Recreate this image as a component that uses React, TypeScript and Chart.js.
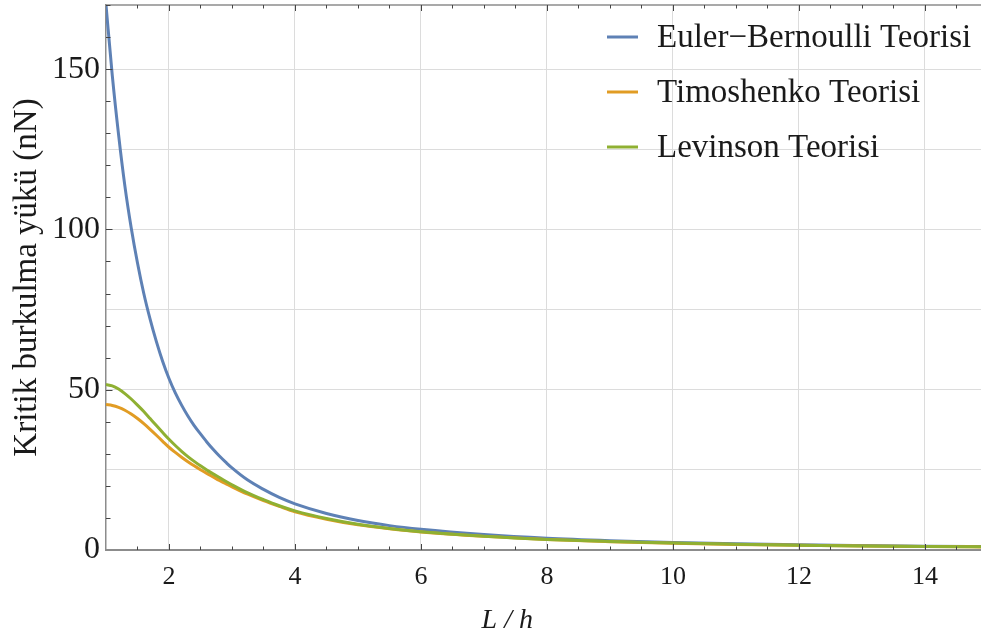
import React, { useEffect, useRef } from "react";
import { Chart, registerables } from "chart.js";

Chart.register(...registerables);

const xValues = [1, 1.1, 1.2, 1.3, 1.4, 1.5, 1.6, 1.7, 1.8, 1.9, 2, 2.1, 2.2, 2.3, 2.4, 2.5, 2.6, 2.7, 2.8, 2.9, 3, 3.25, 3.5, 3.75, 4, 4.5, 5, 5.5, 6, 7, 8, 9, 10, 11, 12, 13, 14, 15];
const eulerBernoulli = [170, 148, 129.5, 113.5, 100.5, 89.5, 80, 72, 65, 58.8, 53.5, 49, 45.2, 41.8, 38.8, 36.2, 33.7, 31.4, 29.3, 27.4, 25.6, 21.8, 18.9, 16.4, 14.4, 11.4, 9.2, 7.6, 6.45, 4.8, 3.65, 2.9, 2.35, 1.95, 1.63, 1.4, 1.2, 1.05];
const timoshenko = [45.4, 45.1, 44.5, 43.6, 42.4, 41.0, 39.4, 37.65, 35.8, 33.9, 32.05, 30.45, 28.95, 27.55, 26.25, 25.05, 23.9, 22.8, 21.7, 20.7, 19.7, 17.4, 15.4, 13.6, 11.9, 9.6, 7.85, 6.6, 5.6, 4.25, 3.25, 2.6, 2.1, 1.75, 1.47, 1.25, 1.08, 0.95];
const levinson = [51.6, 51.2, 50.2, 48.8, 47.1, 45.2, 43.2, 41.0, 38.8, 36.65, 34.55, 32.6, 30.8, 29.15, 27.65, 26.25, 24.95, 23.75, 22.6, 21.45, 20.35, 17.8, 15.7, 13.8, 12.2, 9.8, 8.0, 6.7, 5.7, 4.3, 3.3, 2.65, 2.15, 1.8, 1.5, 1.28, 1.1, 0.97];

const seriesLabels = ["Euler\u2212Bernoulli Teorisi", "Timoshenko Teorisi", "Levinson Teorisi"];
const seriesColors = ["#5E81B5", "#E19C24", "#8FB032"];
const seriesOrder = [2, 1, 0];

const xMajorTicks = [2, 4, 6, 8, 10, 12, 14];
const yMajorTicks = [0, 50, 100, 150];
const yAxisTitle = "Kritik burkulma yükü (nN)";
const xAxisTitle = "L / h";

const SERIF = "'Liberation Serif', 'DejaVu Serif', serif";

const framePlugin = {
  id: "framePlugin",
  afterDraw(chart: any) {
    const { ctx, chartArea } = chart;
    const { left, right, top, bottom } = chartArea;
    const xs = chart.scales.x;
    const ys = chart.scales.y;
    ctx.save();
    // top frame line
    ctx.strokeStyle = "#8c8c8c";
    ctx.lineWidth = 1.5;
    ctx.beginPath();
    ctx.moveTo(left, top);
    ctx.lineTo(right, top);
    ctx.stroke();

    // inward ticks
    ctx.strokeStyle = "#444";
    ctx.lineWidth = 1;
    for (let i = 1; ; i++) {
      const v = 1 + i * 0.5;
      if (v > xs.max) break;
      const px = Math.round(xs.getPixelForValue(v)) + 0.5;
      const major = xMajorTicks.includes(v);
      const len = major ? 6 : 3.5;
      ctx.beginPath();
      ctx.moveTo(px, bottom);
      ctx.lineTo(px, bottom - len);
      ctx.moveTo(px, top);
      ctx.lineTo(px, top + len);
      ctx.stroke();
    }
    for (let v = 10; v <= ys.max; v += 10) {
      const py = Math.round(ys.getPixelForValue(v)) + 0.5;
      const major = yMajorTicks.includes(v);
      const len = major ? 6.5 : 4.5;
      ctx.beginPath();
      ctx.moveTo(left, py);
      ctx.lineTo(left + len, py);
      ctx.stroke();
    }

    // legend
    const lx = right - 374;
    const rowY = [top + 32, top + 87, top + 142];
    seriesLabels.forEach((label: string, i: number) => {
      ctx.strokeStyle = seriesColors[i];
      ctx.lineWidth = 3;
      ctx.beginPath();
      ctx.moveTo(lx, rowY[i]);
      ctx.lineTo(lx + 31, rowY[i]);
      ctx.stroke();
      ctx.fillStyle = "#1a1a1a";
      ctx.font = `33px ${SERIF}`;
      ctx.textAlign = "left";
      ctx.textBaseline = "middle";
      ctx.fillText(label, lx + 50, rowY[i] + 1);
    });

    // x axis title
    ctx.fillStyle = "#1a1a1a";
    ctx.font = `italic 28px ${SERIF}`;
    ctx.textAlign = "center";
    ctx.textBaseline = "middle";
    ctx.fillText(xAxisTitle, xs.getPixelForValue(7.37), 621);
    ctx.restore();
  },
};

export default function App() {
  const ref = useRef<HTMLCanvasElement | null>(null);
  useEffect(() => {
    if (!ref.current) return;
    const datasets = [eulerBernoulli, timoshenko, levinson].map((arr, i) => ({
      label: seriesLabels[i],
      data: xValues.map((x, j) => ({ x, y: arr[j] })),
      borderColor: seriesColors[i],
      backgroundColor: seriesColors[i],
      borderWidth: 3,
      pointRadius: 0,
      order: seriesOrder[i],
      cubicInterpolationMode: "monotone" as const,
      fill: false,
    }));
    const chart = new Chart(ref.current, {
      type: "line",
      data: { datasets },
      plugins: [framePlugin],
      options: {
        animation: false,
        responsive: false,
        layout: { padding: { top: 5, right: 0, left: 0, bottom: 0 } },
        plugins: { legend: { display: false }, tooltip: { enabled: false } },
        scales: {
          x: {
            type: "linear",
            min: 1,
            max: 14.89,
            afterBuildTicks: (scale: any) => {
              const t = [];
              for (let i = 1; i <= 27; i++) t.push({ value: 1 + i * 0.5 });
              scale.ticks = t.filter((k) => k.value <= scale.max);
            },
            afterFit: (scale: any) => {
              scale.height = 92;
              scale.paddingLeft = 0;
              scale.paddingRight = 0;
            },
            grid: {
              drawTicks: false,
              color: (c: any) => (c.tick && xMajorTicks.includes(c.tick.value) ? "#dcdcdc" : "rgba(0,0,0,0)"),
              lineWidth: 1,
            },
            border: { display: true, color: "#8c8c8c", width: 2 },
            ticks: {
              autoSkip: false,
              maxRotation: 0,
              padding: 12,
              color: "#1a1a1a",
              font: { family: SERIF, size: 26 },
              callback: (v: any) => (xMajorTicks.includes(Number(v)) ? String(v) : ""),
            },
            title: { display: false },
          },
          y: {
            type: "linear",
            min: 0,
            max: 170,
            afterBuildTicks: (scale: any) => {
              const t = [];
              for (let v = 0; v <= 165; v += 5) t.push({ value: v });
              scale.ticks = t;
            },
            afterFit: (scale: any) => {
              scale.width = 106;
              scale.paddingTop = 0;
              scale.paddingBottom = 0;
            },
            grid: {
              drawTicks: false,
              color: (c: any) =>
                c.tick && c.tick.value > 0 && c.tick.value % 25 === 0 ? "#dcdcdc" : "rgba(0,0,0,0)",
              lineWidth: 1,
            },
            border: { display: true, color: "#8c8c8c", width: 1.5 },
            ticks: {
              autoSkip: false,
              padding: 6,
              color: "#1a1a1a",
              font: { family: SERIF, size: 32 },
              callback: (v: any) => (yMajorTicks.includes(Number(v)) ? String(v) : ""),
            },
            title: {
              display: true,
              text: yAxisTitle,
              color: "#1a1a1a",
              font: { family: SERIF, size: 33 },
              padding: { top: 8, bottom: 0 },
            },
          },
        },
      },
    });
    return () => chart.destroy();
  }, []);
  return (
    <div style={{ position: "absolute", left: 0, top: 0, width: 981, height: 642, background: "#fff" }}>
      <canvas ref={ref} width={981} height={642} />
    </div>
  );
}
